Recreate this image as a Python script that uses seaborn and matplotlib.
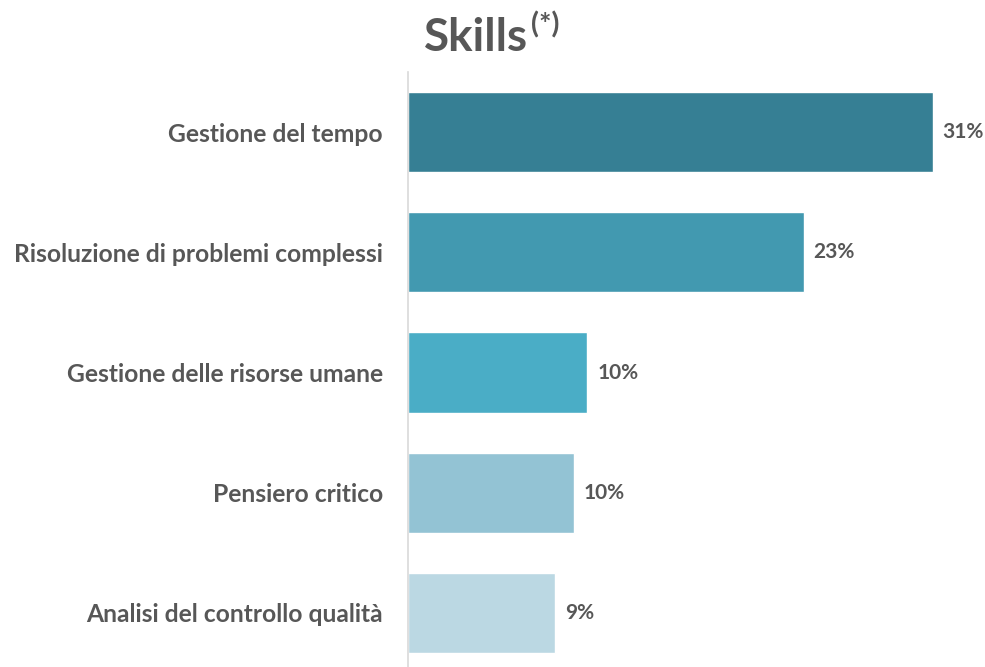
import matplotlib.pyplot as plt
import pandas as pd
import seaborn as sns

# Data
skills = [
    "Gestione del tempo",
    "Risoluzione di problemi complessi",
    "Gestione delle risorse umane",
    "Pensiero critico",
    "Analisi del controllo qualità",
]
shares = [31.0, 23.4, 10.6, 9.8, 8.7]
share_labels = ["31%", "23%", "10%", "10%", "9%"]
bar_colors = ["#367F94", "#4299B0", "#4AADC6", "#93C3D4", "#BBD8E3"]

df = pd.DataFrame({"skill": skills, "share": shares})

sns.set_style("white")
plt.rcParams["font.family"] = ["Lato", "DejaVu Sans"]
text_color = "#575757"

fig = plt.figure(figsize=(9.85, 6.67), dpi=100)
ax = fig.add_axes([0.4142, -0.009, 0.567, 0.901])

sns.barplot(data=df, y="skill", x="share", hue="skill", palette=bar_colors,
            orient="h", width=0.667, saturation=1, legend=False, ax=ax)

for container, lab in zip(ax.containers, share_labels):
    ax.bar_label(container, labels=[lab], padding=7,
                 fontsize=15, fontweight="bold", color=text_color)

ax.set_xlim(0, 33)
ax.set_xlabel("")
ax.set_ylabel("")
ax.set_xticks([])
ax.tick_params(axis="y", length=0, pad=18)
for lbl in ax.get_yticklabels():
    lbl.set_fontsize(17.7)
    lbl.set_fontweight("bold")
    lbl.set_color(text_color)

for side in ["top", "right", "bottom"]:
    ax.spines[side].set_visible(False)
ax.spines["left"].set_color("#D9D9D9")
ax.spines["left"].set_linewidth(1.2)

# Title with superscript marker
fig.text(0.536, 0.943, "Skills", ha="right", va="center",
         fontsize=33, fontweight="bold", color=text_color)
fig.text(0.539, 0.962, "(*)", ha="left", va="center",
         fontsize=21, fontweight="bold", color=text_color)

plt.savefig("out.png", dpi=100)
